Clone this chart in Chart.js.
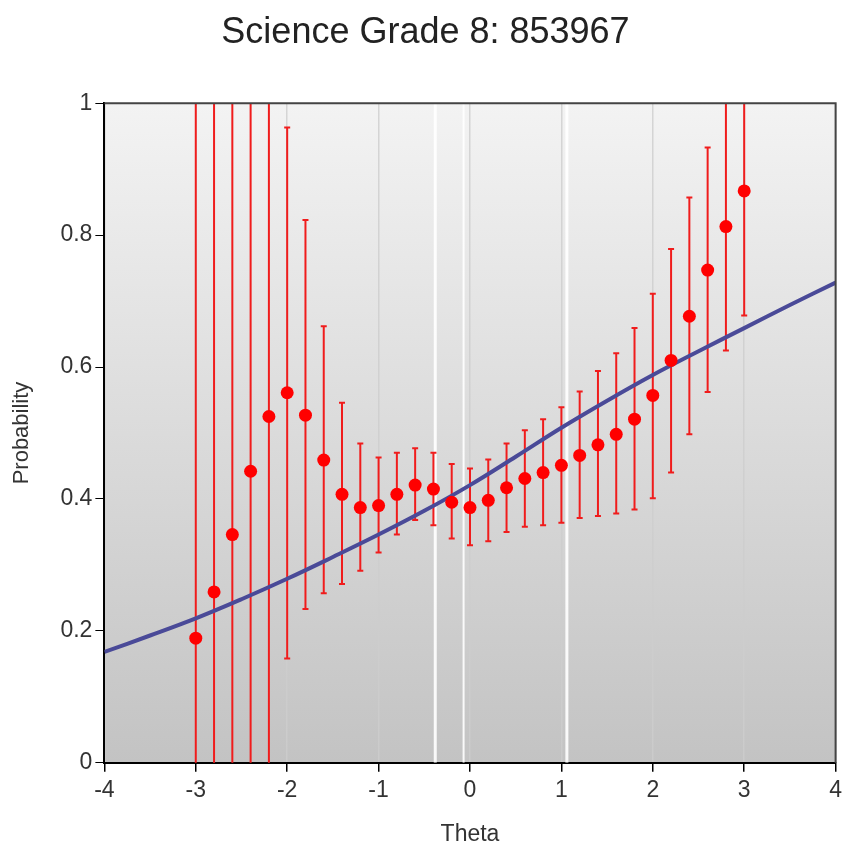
<!DOCTYPE html>
<html>
<head>
<meta charset="utf-8">
<script src="https://cdn.jsdelivr.net/npm/chart.js@4"></script>
<style>
  body { margin: 0; background: #fff; }
</style>
</head>
<body>
<canvas id="myChart" width="847" height="848"></canvas>
<script>
// observed proportions by theta
const theta = [-3, -2.8, -2.6, -2.4, -2.2, -2, -1.8, -1.6, -1.4, -1.2, -1, -0.8, -0.6, -0.4, -0.2,
  0, 0.2, 0.4, 0.6, 0.8, 1, 1.2, 1.4, 1.6, 1.8, 2, 2.2, 2.4, 2.6, 2.8, 3];
const observed = [0.189, 0.259, 0.346, 0.442, 0.525, 0.561, 0.527, 0.459, 0.407, 0.387, 0.390, 0.407, 0.421, 0.415, 0.395,
  0.387, 0.398, 0.417, 0.431, 0.440, 0.451, 0.466, 0.482, 0.498, 0.521, 0.557, 0.610, 0.677, 0.747, 0.813, 0.867];
const upper = [1.3, 1.3, 1.3, 1.3, 1.3, 0.963, 0.823, 0.662, 0.546, 0.484, 0.463, 0.470, 0.477, 0.470, 0.453,
  0.446, 0.460, 0.484, 0.504, 0.521, 0.539, 0.563, 0.594, 0.621, 0.659, 0.711, 0.779, 0.857, 0.933, 1.3, 1.3];
const lower = [-0.3, -0.3, -0.3, -0.3, -0.3, 0.158, 0.233, 0.257, 0.271, 0.291, 0.319, 0.346, 0.368, 0.360, 0.340,
  0.330, 0.336, 0.350, 0.358, 0.360, 0.364, 0.371, 0.374, 0.378, 0.384, 0.401, 0.440, 0.498, 0.562, 0.625, 0.678];

// model curve
const curveTheta = [-4, -3.5, -3, -2.5, -2, -1.5, -1, -0.5, 0, 0.5, 1, 1.5, 2, 2.5, 3, 3.5, 4];
const curveProb = [0.168, 0.193, 0.219, 0.248, 0.279, 0.312, 0.346, 0.382, 0.421, 0.464, 0.508, 0.549, 0.588, 0.624, 0.659, 0.694, 0.728];

// light streaks in the plot background
const streaks = [-0.38, -0.07, 1.06];

const xTicks = [-4, -3, -2, -1, 0, 1, 2, 3, 4];
const yTicks = [0, 0.2, 0.4, 0.6, 0.8, 1];

const fontFam = "'Liberation Sans', Arial, sans-serif";

const bgPlugin = {
  id: 'bg',
  beforeDraw(chart) {
    const { ctx, chartArea: a } = chart;
    const g = ctx.createLinearGradient(0, a.top, 0, a.bottom);
    g.addColorStop(0, '#f3f3f3');
    g.addColorStop(1, '#c3c3c3');
    ctx.save();
    ctx.fillStyle = g;
    ctx.fillRect(a.left, a.top, a.right - a.left, a.bottom - a.top);
    ctx.restore();
  },
  beforeDatasetDraw(chart, args) {
    if (args.meta.label !== 'curve') return;
    const { ctx, chartArea: a } = chart;
    const xs = chart.scales.x, ys = chart.scales.y;
    ctx.save();
    ctx.beginPath();
    ctx.rect(a.left, a.top, a.right - a.left, a.bottom - a.top);
    ctx.clip();
    ctx.strokeStyle = '#f01c1c';
    ctx.lineWidth = 2;
    theta.forEach((t, i) => {
      const px = xs.getPixelForValue(t);
      const top = ys.getPixelForValue(upper[i]);
      const bot = ys.getPixelForValue(lower[i]);
      ctx.beginPath();
      ctx.moveTo(px, top);
      ctx.lineTo(px, bot);
      ctx.moveTo(px - 3, top);
      ctx.lineTo(px + 3, top);
      ctx.moveTo(px - 3, bot);
      ctx.lineTo(px + 3, bot);
      ctx.stroke();
    });
    ctx.restore();
  },
  afterDraw(chart) {
    const { ctx, chartArea: a } = chart;
    ctx.save();
    ctx.strokeStyle = '#444';
    ctx.lineWidth = 2;
    ctx.beginPath();
    ctx.moveTo(a.left, a.top);
    ctx.lineTo(a.right, a.top);
    ctx.lineTo(a.right, a.bottom);
    ctx.stroke();
    ctx.restore();
  }
};

const datasets = [
  {
    label: 'observed',
    data: theta.map((t, i) => ({ x: t, y: observed[i] })),
    showLine: false,
    pointRadius: 6.5,
    pointBackgroundColor: '#ff0000',
    pointBorderWidth: 0,
    order: 1
  },
  {
    label: 'curve',
    data: curveTheta.map((t, i) => ({ x: t, y: curveProb[i] })),
    showLine: true,
    borderColor: '#4a4a98',
    borderWidth: 4,
    pointRadius: 0,
    tension: 0.4,
    order: 2
  }
];
streaks.forEach((s, i) => {
  datasets.push({
    label: 'streak' + i,
    data: [{ x: s, y: 0 }, { x: s, y: 1 }],
    showLine: true,
    borderColor: 'rgba(255,255,255,0.9)',
    borderWidth: i === 1 ? 2 : 3,
    pointRadius: 0,
    order: 5
  });
});

new Chart(document.getElementById('myChart'), {
  type: 'scatter',
  data: { datasets: datasets },
  options: {
    responsive: false,
    animation: false,
    layout: { padding: { left: 9, right: 5, top: 6, bottom: 0 } },
    plugins: {
      legend: { display: false },
      tooltip: { enabled: false },
      title: {
        display: true,
        text: 'Science Grade 8: 853967',
        color: '#222',
        font: { family: fontFam, size: 36, weight: 'normal' },
        padding: { top: 5, bottom: 49 }
      }
    },
    scales: {
      x: {
        type: 'linear',
        min: -4,
        max: 4,
        afterBuildTicks: s => { s.ticks = xTicks.map(v => ({ value: v })); },
        ticks: { color: '#333', font: { family: fontFam, size: 23 }, padding: 5, callback: v => String(v) },
        grid: { color: 'rgba(205,205,205,0.8)', lineWidth: 1.5, tickColor: '#000', tickLength: 9 },
        border: { color: '#000', width: 2 },
        title: { display: true, text: 'Theta', color: '#333', font: { family: fontFam, size: 23 }, padding: { top: 11, bottom: 0 } }
      },
      y: {
        min: 0,
        max: 1,
        afterBuildTicks: s => { s.ticks = yTicks.map(v => ({ value: v })); },
        ticks: { color: '#333', font: { family: fontFam, size: 23 }, padding: 3, callback: v => String(v) },
        grid: { drawOnChartArea: false, tickColor: '#000', tickLength: 9 },
        border: { color: '#000', width: 2 },
        title: { display: true, text: 'Probability', color: '#333', font: { family: fontFam, size: 22 }, padding: { top: 0, bottom: 22 } }
      }
    }
  },
  plugins: [bgPlugin]
});
</script>
</body>
</html>
